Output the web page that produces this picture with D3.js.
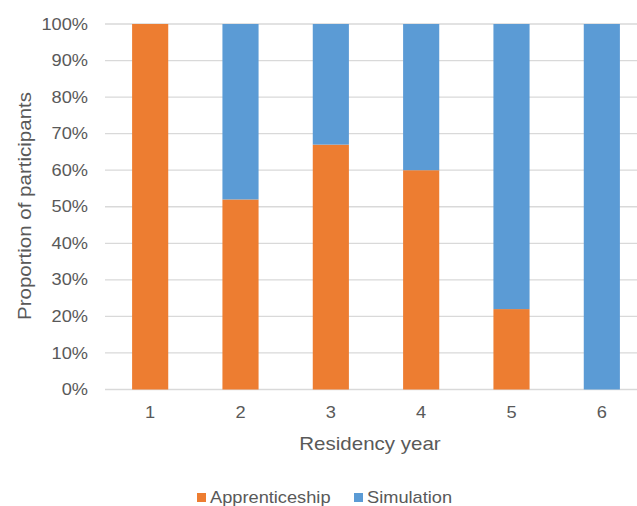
<!DOCTYPE html>
<html>
<head>
<meta charset="utf-8">
<script src="https://cdn.jsdelivr.net/npm/d3@7"></script>
<style>
  body { margin: 0; background: #fff; }
  svg text { font-family: "Liberation Sans", Arial, sans-serif; fill: #595959; }
</style>
</head>
<body>
<svg id="chart" width="637" height="506"></svg>
<script>
// Residency years and share of participants per learning mode
const years = ["1", "2", "3", "4", "5", "6"];
const apprenticeship = [1.00, 0.52, 0.67, 0.60, 0.22, 0.00];
const simulation = [0.00, 0.48, 0.33, 0.40, 0.78, 1.00];
const yTicks = [0, 0.1, 0.2, 0.3, 0.4, 0.5, 0.6, 0.7, 0.8, 0.9, 1.0];
const seriesNames = ["Apprenticeship", "Simulation"];
const colors = ["#ed7d31", "#5b9bd5"];

const svg = d3.select("#chart");
const plotLeft = 105, plotRight = 647, plotTop = 24, plotBottom = 389.5;
const stretch = 1.14; // the original font runs wider than Liberation Sans

const x = d3.scaleBand().domain(years).range([plotLeft, plotRight]).paddingInner(0.6).paddingOuter(0.3);
const y = d3.scaleLinear().domain([0, 1]).range([plotBottom, plotTop]);

// Gridlines
svg.append("g")
    .selectAll("line")
    .data(yTicks)
    .join("line")
    .attr("x1", plotLeft).attr("x2", 637)
    .attr("y1", d => y(d)).attr("y2", d => y(d))
    .attr("stroke", "#d9d9d9")
    .attr("stroke-width", 1.3);

// Stacked bars
const rows = years.map((yr, i) => ({ year: yr, Apprenticeship: apprenticeship[i], Simulation: simulation[i] }));
const stacked = d3.stack().keys(seriesNames)(rows);

svg.append("g")
    .selectAll("g")
    .data(stacked)
    .join("g")
    .attr("fill", (d, i) => colors[i])
    .selectAll("rect")
    .data(d => d)
    .join("rect")
    .attr("x", d => x(d.data.year))
    .attr("width", x.bandwidth())
    .attr("y", d => y(d[1]))
    .attr("height", d => y(d[0]) - y(d[1]));

// Y axis labels
const yAxis = svg.append("g")
    .attr("transform", `translate(${plotLeft},0)`)
    .call(d3.axisLeft(y).tickValues(yTicks).tickFormat(d3.format(".0%")).tickSize(0));
yAxis.select(".domain").remove();
yAxis.selectAll("text")
    .attr("x", -17 / stretch)
    .attr("transform", `scale(${stretch},1)`)
    .style("font-size", "16px");

// X axis labels
const xAxis = svg.append("g")
    .attr("transform", `translate(0,${plotBottom})`)
    .call(d3.axisBottom(x).tickSize(0).tickPadding(17));
xAxis.select(".domain").remove();
xAxis.selectAll("text")
    .attr("transform", `scale(${stretch},1)`)
    .style("font-size", "16px");

// Axis titles
svg.append("text")
    .attr("transform", `translate(370,450) scale(${stretch},1)`)
    .attr("text-anchor", "middle")
    .style("font-size", "18px")
    .text("Residency year");

svg.append("text")
    .attr("transform", `translate(31,206) rotate(-90) scale(${stretch},1)`)
    .attr("text-anchor", "middle")
    .style("font-size", "18px")
    .text("Proportion of participants");

// Legend
const legend = svg.append("g").attr("transform", "translate(0,503)");
const legendX = [210, 367];
seriesNames.forEach((name, i) => {
    legend.append("rect")
        .attr("x", legendX[i] - 13).attr("y", -10)
        .attr("width", 9).attr("height", 9)
        .attr("fill", colors[i]);
    legend.append("text")
        .attr("transform", `translate(${legendX[i]},0) scale(${stretch},1)`)
        .style("font-size", "16px")
        .text(name);
});
</script>
</body>
</html>
